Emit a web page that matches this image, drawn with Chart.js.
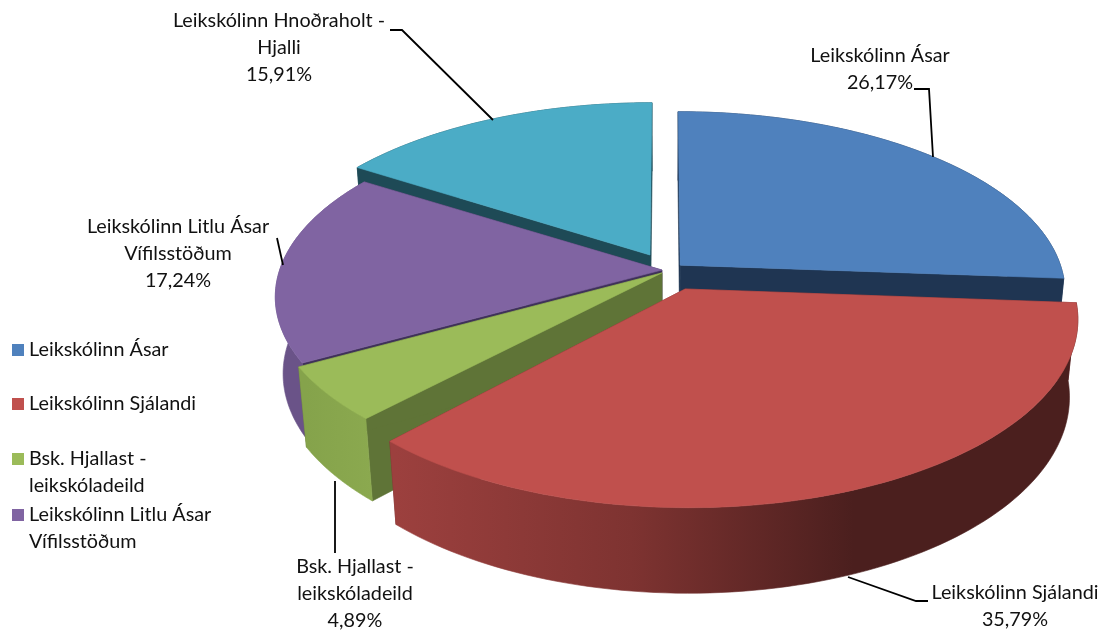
<!DOCTYPE html>
<html lang="is">
<head>
<meta charset="utf-8">
<style>html,body{margin:0;padding:0;background:#fff}canvas{display:block}</style>
<script src="https://cdn.jsdelivr.net/npm/chart.js@4"></script>
</head>
<body>
<canvas id="c" width="1110" height="632"></canvas>
<script>
// ---- data ----
const categories = ["Leikskólinn Ásar", "Leikskólinn Sjálandi", "Bsk. Hjallast - leikskóladeild", "Leikskólinn Litlu Ásar Vífilsstöðum", "Leikskólinn Hnoðraholt - Hjalli"];
const shares = [26.17, 35.79, 4.89, 17.24, 15.91];
const legendLines = [["Leikskólinn Ásar"], ["Leikskólinn Sjálandi"], ["Bsk. Hjallast -", "leikskóladeild"], ["Leikskólinn Litlu Ásar", "Vífilsstöðum"]];
const labelLines = [["Leikskólinn Ásar"], ["Leikskólinn Sjálandi"], ["Bsk. Hjallast -", "leikskóladeild"], ["Leikskólinn Litlu Ásar", "Vífilsstöðum"], ["Leikskólinn Hnoðraholt -", "Hjalli"]];

// ---- style ----
const topColors = ["#4F81BD", "#C0504D", "#9BBB59", "#8064A2", "#4BACC6"];
const wallColors = ["#1F3552", "#6e2c2b", "#5F7437", "#3F3159", "#1E4A56"];
const sideStops = [
  [[0, "#1F3552"], [1, "#1F3552"]],
  [[0, "#9C403E"], [0.35, "#7E3331"], [0.68, "#4B1F1E"], [1, "#4B1F1E"]],
  [[0, "#85A34B"], [1, "#8BA94F"]],
  [[0, "#6A5388"], [1, "#6A5388"]],
  [[0, "#1E4A56"], [1, "#1E4A56"]]
];
const paintOrder = [4, 0, 3, 2, 1];
// explosion of each slice in disc units and its radius factors
const explode = [[0.039, -0.064], [0.051, 0.075], [-0.008, -0.018], [-0.008, -0.035], [-0.039, -0.125]];
const radiusX = [0.979, 0.978, 0.987, 0.98, 0.98];
const radiusY = [1.05, 1.06, 1.045, 1.04, 1.06];
const view = {cx: 665, cy: 276, f: 392, g: 171, k: 0.143, h: 78, m: 0.02};
const font = '19.8px Lato, "Open Sans", sans-serif';
const textColor = "#111";
const labelPlace = [[880, 56], [1015, 593], [355, 567], [178, 227], [279, 21]];
const lineHeight = 26.8;
const leaders = [
  [[914, 89], [929, 89], [933, 157]],
  [[848, 577], [916, 601], [928, 601]],
  [[335, 481], [335, 553]],
  [[277, 238], [283, 265]],
  [[390, 30], [402, 30], [493, 120]]
];
const legendPlace = [350, 404, 459, 515];

function project(u, v, z) {
  const w = 1 - view.k * v + view.m * z;
  return [view.cx + view.f * u / w, view.cy + (view.g * v + view.h * z) / w];
}
function rim(i, a, z) {
  const e = explode[i];
  return project(e[0] + radiusX[i] * Math.cos(a), e[1] + radiusY[i] * Math.sin(a), z);
}
function tip(i, z) { const e = explode[i]; return project(e[0], e[1], z); }
function poly(ctx, pts, fill) {
  ctx.beginPath();
  pts.forEach((p, n) => n ? ctx.lineTo(p[0], p[1]) : ctx.moveTo(p[0], p[1]));
  ctx.closePath();
  ctx.fillStyle = fill;
  ctx.strokeStyle = fill;
  ctx.lineWidth = 0.6;
  ctx.fill();
  ctx.stroke();
}
const disc3d = {
  id: "disc3d",
  beforeDatasetsDraw(chart) {
    const ctx = chart.ctx, arcs = chart.getDatasetMeta(0).data;
    ctx.save();
    ctx.lineJoin = "round";
    paintOrder.forEach(i => {
      const a0 = arcs[i].startAngle, a1 = arcs[i].endAngle, n = 90;
      const topEdge = [], botEdge = [];
      for (let s = 0; s <= n; s++) {
        const a = a0 + (a1 - a0) * s / n;
        topEdge.push(rim(i, a, 0));
        botEdge.push(rim(i, a, 1));
      }
      poly(ctx, [tip(i, 0), topEdge[0], botEdge[0], tip(i, 1)], wallColors[i]);
      poly(ctx, [tip(i, 0), topEdge[n], botEdge[n], tip(i, 1)], wallColors[i]);
      const xs = botEdge.map(p => p[0]);
      const g = ctx.createLinearGradient(Math.min(...xs), 0, Math.max(...xs), 0);
      sideStops[i].forEach(s => g.addColorStop(s[0], s[1]));
      poly(ctx, topEdge.concat(botEdge.slice().reverse()), g);
      poly(ctx, [tip(i, 0)].concat(topEdge), topColors[i]);
    });
    ctx.restore();
    return false;
  },
  afterDraw(chart) {
    const ctx = chart.ctx;
    ctx.save();
    ctx.strokeStyle = "#000";
    ctx.lineWidth = 1.8;
    leaders.forEach(l => {
      ctx.beginPath();
      l.forEach((p, n) => n ? ctx.lineTo(p[0], p[1]) : ctx.moveTo(p[0], p[1]));
      ctx.stroke();
    });
    ctx.font = font;
    ctx.fillStyle = textColor;
    ctx.textBaseline = "middle";
    ctx.textAlign = "center";
    labelLines.forEach((lines, i) => {
      const [x, y] = labelPlace[i];
      const all = lines.concat(shares[i].toFixed(2).replace(".", ",") + "%");
      all.forEach((t, n) => ctx.fillText(t, x, y + n * lineHeight));
    });
    ctx.textAlign = "left";
    legendLines.forEach((lines, i) => {
      const y = legendPlace[i];
      ctx.fillStyle = topColors[i];
      ctx.fillRect(12, y - 6, 12, 12);
      ctx.fillStyle = textColor;
      lines.forEach((t, n) => ctx.fillText(t, 29, y + n * lineHeight));
    });
    ctx.restore();
  }
};
new Chart(document.getElementById("c"), {
  type: "pie",
  data: {labels: categories, datasets: [{data: shares, backgroundColor: topColors, borderWidth: 0}]},
  options: {
    responsive: false,
    animation: false,
    plugins: {legend: {display: false}, tooltip: {enabled: false}}
  },
  plugins: [disc3d]
});
</script>
</body>
</html>
